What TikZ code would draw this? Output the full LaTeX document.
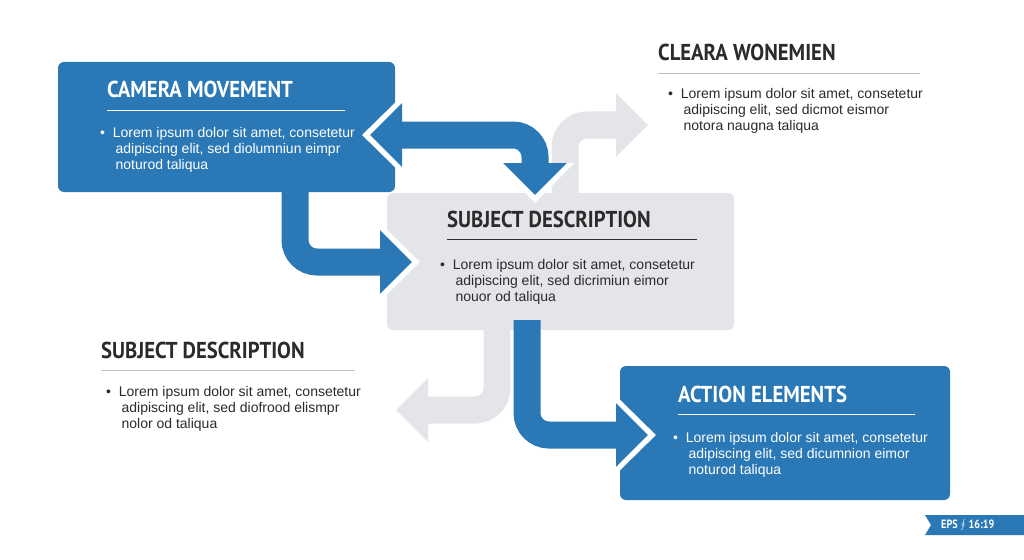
\documentclass[tikz,border=0pt]{standalone}
\usepackage{fontspec}
\setmainfont{Liberation Sans}
\newfontfamily\ttl{PT Sans}
\usetikzlibrary{arrows.meta}
\definecolor{bl}{HTML}{2A78B5}
\definecolor{gr}{HTML}{E3E5E8}
\definecolor{dk}{HTML}{2B2B2B}
\begin{document}
\begin{tikzpicture}[x=1pt,y=-1pt,
 box/.style={rounded corners=6pt},
 title/.style={anchor=west,font=\ttl\bfseries\fontsize{23}{23}\selectfont,xscale=0.9,inner sep=0},
 body/.style={anchor=north west,align=left,font=\fontsize{14}{16}\selectfont,inner sep=0},
 arr/.style={line width=27pt,rounded corners=22pt,-{Triangle[width=62pt,length=32pt]}},
 arrw/.style={line width=33pt,rounded corners=22pt,white,-{Triangle[width=76pt,length=40pt]}},
 darr/.style={line width=27pt,rounded corners=22pt,{Triangle[width=62pt,length=32pt]}-{Triangle[width=62pt,length=32pt]}},
 darrw/.style={line width=33pt,rounded corners=22pt,white,{Triangle[width=76pt,length=40pt]}-{Triangle[width=76pt,length=40pt]}}]
\useasboundingbox (0,0) rectangle (1024,559);
\fill[white] (0,0) rectangle (1024,559);
% coordinates
\coordinate (a1s) at (370,135); \coordinate (a1c) at (535,135); \coordinate (a1e) at (535,195);
\coordinate (a1sw) at (362,135); \coordinate (a1ew) at (535,203);
\coordinate (a2s) at (565,200); \coordinate (a2c) at (565,125); \coordinate (a2e) at (648,125);
\coordinate (a3s) at (295,185); \coordinate (a3c) at (295,262); \coordinate (a3e) at (412,262);
\coordinate (a3ew) at (420,262);
\coordinate (a4s) at (497,320); \coordinate (a4c) at (497,410); \coordinate (a4e) at (396,410);
\coordinate (a5s) at (527,320); \coordinate (a5c) at (527,435); \coordinate (a5e) at (648,435);
\coordinate (a5ew) at (656,435);
% gray arrows behind
\draw[arr,gr] (a2s) -- (a2c) -- (a2e);
\draw[arr,gr] (a4s) -- (a4c) -- (a4e);
% boxes
\fill[bl,box] (58,62) rectangle (395,192);
\fill[gr,box] (387,193) rectangle (734,330);
\fill[bl,box] (620,366) rectangle (950,500);
% blue arrows
\draw[darrw] (a1sw) -- (a1c) -- (a1ew);
\draw[darr,bl] (a1s) -- (a1c) -- (a1e);
\draw[arrw,shorten <=10pt] (a3s) -- (a3c) -- (a3ew);
\draw[arr,bl] (a3s) -- (a3c) -- (a3e);
\draw[arrw,shorten <=10pt] (a5s) -- (a5c) -- (a5ew);
\draw[arr,bl] (a5s) -- (a5c) -- (a5e);
% texts
\node[title,white] (t1) at (107,89) {CAMERA MOVEMENT};
\draw[white,line width=0.8pt] (107,110) -- (345,110);
\node[body,white] (b1) at (100,127) {\textbullet\ \ Lorem ipsum dolor sit amet, consetetur\\\hspace{1.1em}adipiscing elit, sed diolumniun eimpr\\\hspace{1.1em}noturod taliqua};
\node[title,dk] (t2) at (447,219) {SUBJECT DESCRIPTION};
\draw[dk,line width=0.8pt] (447,239) -- (697,239);
\node[body,dk] (b2) at (440,259) {\textbullet\ \ Lorem ipsum dolor sit amet, consetetur\\\hspace{1.1em}adipiscing elit, sed dicrimiun eimor\\\hspace{1.1em}nouor od taliqua};
\node[title,white] (t3) at (678,394) {ACTION ELEMENTS};
\draw[white,line width=0.8pt] (678,414) -- (915,414);
\node[body,white] (b3) at (673,432) {\textbullet\ \ Lorem ipsum dolor sit amet, consetetur\\\hspace{1.1em}adipiscing elit, sed dicumnion eimor\\\hspace{1.1em}noturod taliqua};
\node[title,dk] (t4) at (658,52) {CLEARA WONEMIEN};
\draw[gray!50,line width=0.8pt] (658,73) -- (920,73);
\node[body,dk] (b4) at (668,88) {\textbullet\ \ Lorem ipsum dolor sit amet, consetetur\\\hspace{1.1em}adipiscing elit, sed dicmot eismor\\\hspace{1.1em}notora naugna taliqua};
\node[title,dk] (t5) at (101,350) {SUBJECT DESCRIPTION};
\draw[gray!50,line width=0.8pt] (101,370) -- (355,370);
\node[body,dk] (b5) at (106,386) {\textbullet\ \ Lorem ipsum dolor sit amet, consetetur\\\hspace{1.1em}adipiscing elit, sed diofrood elismpr\\\hspace{1.1em}nolor od taliqua};
% badge
\fill[bl] (925,515) -- (1024,515) -- (1024,535) -- (925,535) -- (931,525) -- cycle;
\node[white,font=\ttl\bfseries\fontsize{12}{12}\selectfont,xscale=0.85,anchor=west,inner sep=0] (bd) at (941,525) {EPS $\oint$ 16:19};
\end{tikzpicture}
\end{document}
